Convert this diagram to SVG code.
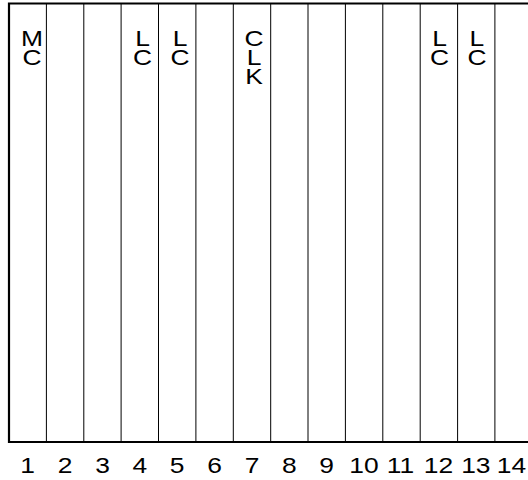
<svg xmlns="http://www.w3.org/2000/svg" width="528" height="480" viewBox="0 0 528 480">
<style>
.frame{stroke:#000;stroke-width:2.2;fill:none}
.div{stroke:#000;stroke-width:1;fill:none}
.lbl{font-family:"Liberation Sans",Arial,sans-serif;font-size:22px;fill:#000;text-anchor:middle}
</style>
<rect width="528" height="480" fill="#fff"/>
<g id="connectors">
<path class="frame" d="M528,3.5 H9 V442 H528"/>
<path class="div" d="M46.4,3.5V442 M83.8,3.5V442 M121.1,3.5V442 M158.5,3.5V442 M195.9,3.5V442 M233.3,3.5V442 M270.7,3.5V442 M308,3.5V442 M345.4,3.5V442 M382.8,3.5V442 M420.2,3.5V442 M457.6,3.5V442 M494.9,3.5V442"/>
</g>
<g id="slot1"><text class="lbl" transform="translate(32,46) scale(1.2,1)"><tspan x="0" y="0">M</tspan><tspan x="0" y="19">C</tspan></text><text class="lbl" transform="translate(27.7,473) scale(1.2,1)">1</text></g>
<g id="slot2"><text class="lbl" transform="translate(65.1,473) scale(1.2,1)">2</text></g>
<g id="slot3"><text class="lbl" transform="translate(102.5,473) scale(1.2,1)">3</text></g>
<g id="slot4"><text class="lbl" transform="translate(142.5,46) scale(1.2,1)"><tspan x="0" y="0">L</tspan><tspan x="0" y="19">C</tspan></text><text class="lbl" transform="translate(139.8,473) scale(1.2,1)">4</text></g>
<g id="slot5"><text class="lbl" transform="translate(180,46) scale(1.2,1)"><tspan x="0" y="0">L</tspan><tspan x="0" y="19">C</tspan></text><text class="lbl" transform="translate(177.2,473) scale(1.2,1)">5</text></g>
<g id="slot6"><text class="lbl" transform="translate(214.6,473) scale(1.2,1)">6</text></g>
<g id="slot7"><text class="lbl" transform="translate(254,46) scale(1.2,1)"><tspan x="0" y="0">C</tspan><tspan x="0" y="19">L</tspan><tspan x="0" y="38">K</tspan></text><text class="lbl" transform="translate(252,473) scale(1.2,1)">7</text></g>
<g id="slot8"><text class="lbl" transform="translate(289.4,473) scale(1.2,1)">8</text></g>
<g id="slot9"><text class="lbl" transform="translate(326.7,473) scale(1.2,1)">9</text></g>
<g id="slot10"><text class="lbl" transform="translate(364,473) scale(1.2,1)">10</text></g>
<g id="slot11"><text class="lbl" transform="translate(400.5,473) scale(1.2,1)">11</text></g>
<g id="slot12"><text class="lbl" transform="translate(439.5,46) scale(1.2,1)"><tspan x="0" y="0">L</tspan><tspan x="0" y="19">C</tspan></text><text class="lbl" transform="translate(438.5,473) scale(1.2,1)">12</text></g>
<g id="slot13"><text class="lbl" transform="translate(476.9,46) scale(1.2,1)"><tspan x="0" y="0">L</tspan><tspan x="0" y="19">C</tspan></text><text class="lbl" transform="translate(475.8,473) scale(1.2,1)">13</text></g>
<g id="slot14"><text class="lbl" transform="translate(511.5,473) scale(1.2,1)">14</text></g>
</svg>
